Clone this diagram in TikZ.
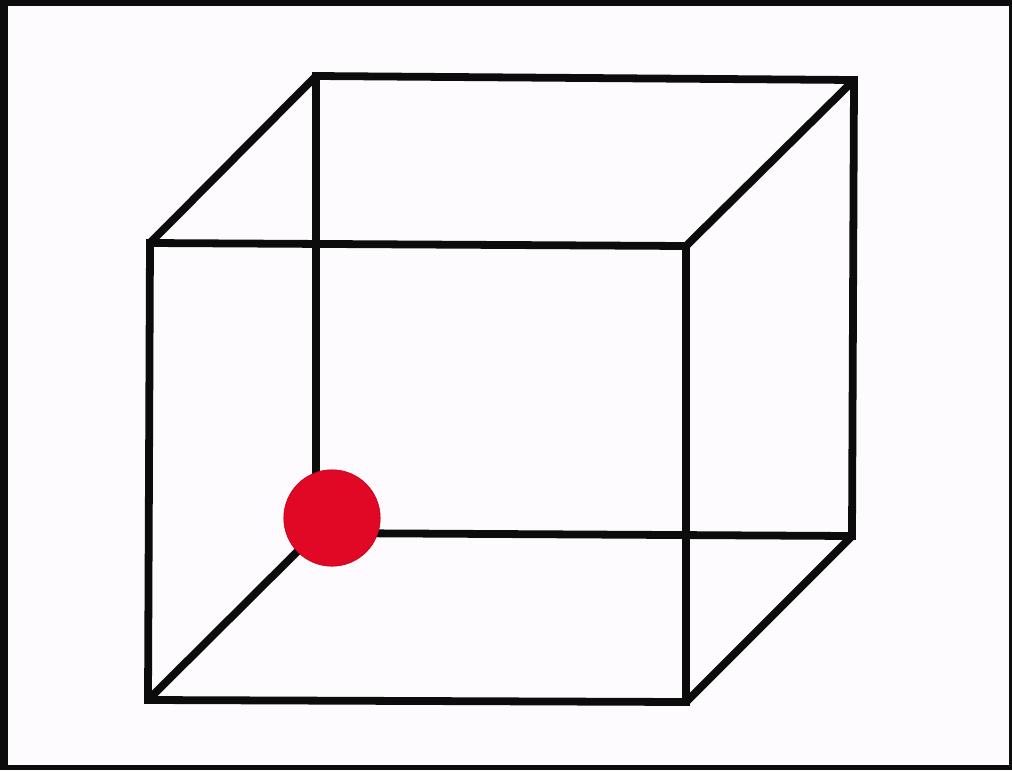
\documentclass[tikz,border=0pt]{standalone}
\usepackage{tikz}
\usetikzlibrary{calc}
\definecolor{ink}{RGB}{12,12,12}
\definecolor{paper}{RGB}{253,251,253}
\definecolor{dotred}{RGB}{224,8,36}
\tikzset{
  edge/.style={draw=ink,line width=6.2pt,line cap=butt,line join=miter},
  ball/.style={circle,fill=dotred,draw=dotred!85!black,line width=0.5pt,minimum size=#1,inner sep=0pt},
  ball/.default=2.7cm,
}

\begin{document}
\begin{tikzpicture}[x=0.028cm,y=-0.028cm]
    \useasboundingbox (0,0) rectangle (1012,770);
    % frame
    \fill[ink] (0,0) rectangle (1012,770);
    \fill[paper] (8,6) rectangle (1009,765);
    % front face
    \coordinate (f1) at (150,243);
    \coordinate (f2) at (686,246);
    \coordinate (f3) at (686,702);
    \coordinate (f4) at (148,700);
    % back face
    \coordinate (b1) at (316,76);
    \coordinate (b2) at (854,80);
    \coordinate (b3) at (852,536);
    \coordinate (b4) at (316,533);
    \draw[edge] (f1) -- (f2) -- (f3) -- (f4) -- cycle;
    \draw[edge] (b1) -- (b2) -- (b3) -- (b4) -- cycle;
    \foreach \i in {1,...,4}
      \draw[edge] (f\i) -- (b\i);
    \node[ball] (dot) at (332,518) {};
\end{tikzpicture}
\end{document}
